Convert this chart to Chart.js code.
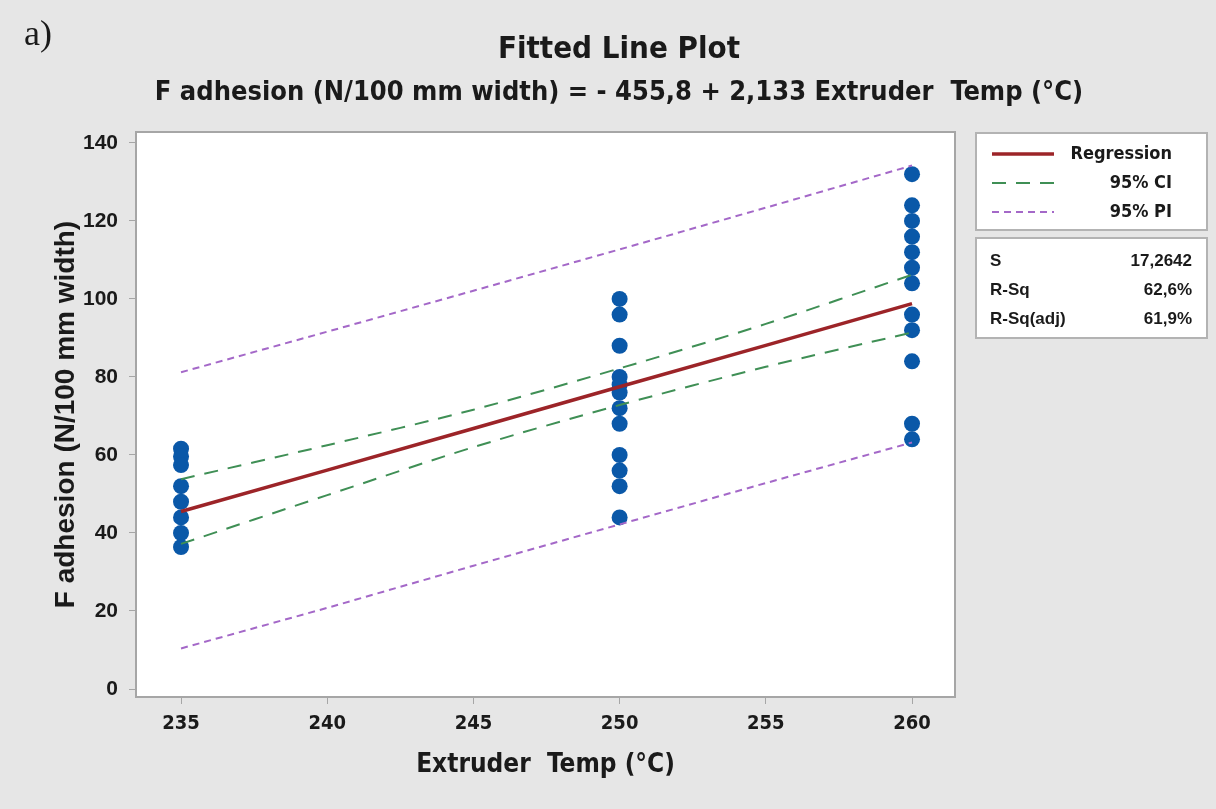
<!DOCTYPE html>
<html>
<head>
<meta charset="utf-8">
<script src="https://cdn.jsdelivr.net/npm/chart.js@4/dist/chart.umd.min.js"></script>
<style>
  body { margin: 0; background: #e6e6e6; }
  canvas { display: block; }
</style>
</head>
<body>
<canvas id="fit-chart" width="1216" height="809"></canvas>
<script>
const temps235 = [235, 235, 235, 235, 235, 235, 235, 235];
const adhesion235 = [61.6, 59.6, 57.4, 52, 48, 44, 40, 36.4];
const temps250 = [250, 250, 250, 250, 250, 250, 250, 250, 250, 250, 250, 250];
const adhesion250 = [100, 96, 88, 80, 78, 76, 72, 68, 60, 56, 52, 44];
const temps260 = [260, 260, 260, 260, 260, 260, 260, 260, 260, 260, 260, 260];
const adhesion260 = [132, 124, 120, 116, 112, 108, 104, 96, 92, 84, 68, 64];

// fitted curves
const fitTemps = [235, 240, 245, 250, 255, 260];
const regression = [45.5, 56.1, 66.8, 77.5, 88.1, 98.8];
const ciUpper = [53.8, 62.5, 71.6, 82.2, 93.6, 106.2];
const ciLower = [37.2, 49.7, 62, 72.8, 82.6, 91.4];
const piUpper = [81.2, 91.6, 102.1, 112.7, 123.4, 134.2];
const piLower = [10.4, 20.8, 31.6, 42.2, 52.8, 63.2];

const xTicks = [235, 240, 245, 250, 255, 260];
const yTicks = [0, 20, 40, 60, 80, 100, 120, 140];

const statLabels = ['S', 'R-Sq', 'R-Sq(adj)'];
const statValues = ['17,2642', '62,6%', '61,9%'];

const RED = '#9c2428';
const GREEN = '#3f8f55';
const PURPLE = '#a468c8';
const BLUE = '#0a58a8';
const NARROW = '"DejaVu Sans Condensed", "Liberation Sans Narrow", sans-serif';
const SANS = '"Liberation Sans", Arial, sans-serif';

function pairs(xs, ys) {
    return xs.map((x, i) => ({ x: x, y: ys[i] }));
}

const obsPoints = pairs(temps235, adhesion235)
    .concat(pairs(temps250, adhesion250))
    .concat(pairs(temps260, adhesion260));

const decorations = {
    id: 'decorations',
    beforeDraw(chart) {
        const { ctx, chartArea: a } = chart;
        ctx.save();
        ctx.fillStyle = '#e6e6e6';
        ctx.fillRect(0, 0, chart.width, chart.height);
        ctx.fillStyle = '#ffffff';
        ctx.fillRect(a.left, a.top, a.right - a.left, a.bottom - a.top);
        ctx.restore();
    },
    afterDraw(chart) {
        const { ctx, chartArea: a } = chart;
        ctx.save();
        ctx.strokeStyle = '#a6a6a6';
        ctx.lineWidth = 2;
        ctx.strokeRect(a.left, a.top, a.right - a.left, a.bottom - a.top);

        ctx.fillStyle = '#1a1a1a';
        ctx.textBaseline = 'middle';
        ctx.font = '36px "Liberation Serif", serif';
        ctx.textAlign = 'left';
        ctx.fillText('a)', 24, 36);

        ctx.textAlign = 'center';
        ctx.font = 'bold 31px ' + NARROW;
        ctx.fillText('Fitted Line Plot', 619, 50);
        ctx.font = 'bold 27px ' + NARROW;
        ctx.fillText('F adhesion (N/100 mm width) = - 455,8 + 2,133 Extruder  Temp (°C)', 619, 93);

        // legend box
        ctx.fillStyle = '#ffffff';
        ctx.strokeStyle = '#b3b3b3';
        ctx.lineWidth = 2;
        ctx.fillRect(976, 133, 231, 97);
        ctx.strokeRect(976, 133, 231, 97);
        ctx.fillRect(976, 238, 231, 100);
        ctx.strokeRect(976, 238, 231, 100);

        const rows = [
            { label: 'Regression', color: RED, width: 3.5, dash: [], y: 154 },
            { label: '95% CI', color: GREEN, width: 2, dash: [14, 10], y: 183 },
            { label: '95% PI', color: PURPLE, width: 2, dash: [7, 5], y: 212 }
        ];
        rows.forEach(r => {
            ctx.beginPath();
            ctx.strokeStyle = r.color;
            ctx.lineWidth = r.width;
            ctx.setLineDash(r.dash);
            ctx.moveTo(992, r.y);
            ctx.lineTo(1054, r.y);
            ctx.stroke();
            ctx.setLineDash([]);
            ctx.fillStyle = '#1a1a1a';
            ctx.textAlign = 'right';
            ctx.font = 'bold 18px ' + NARROW;
            ctx.fillText(r.label, 1172, r.y);
        });

        ctx.font = 'bold 17px ' + SANS;
        statLabels.forEach((lab, i) => {
            const y = 261 + i * 29;
            ctx.textAlign = 'left';
            ctx.fillText(lab, 990, y);
            ctx.textAlign = 'right';
            ctx.fillText(statValues[i], 1192, y);
        });
        ctx.restore();
    }
};

new Chart(document.querySelector('#fit-chart').getContext('2d'), {
    type: 'scatter',
    data: {
        datasets: [
            { label: 'Regression', type: 'line', data: pairs(fitTemps, regression), borderColor: RED, borderWidth: 3.5, pointRadius: 0, fill: false },
            { label: '95% CI upper', type: 'line', data: pairs(fitTemps, ciUpper), borderColor: GREEN, borderWidth: 2, borderDash: [14, 10], pointRadius: 0, fill: false, tension: 0.3 },
            { label: '95% CI lower', type: 'line', data: pairs(fitTemps, ciLower), borderColor: GREEN, borderWidth: 2, borderDash: [14, 10], pointRadius: 0, fill: false, tension: 0.3 },
            { label: '95% PI upper', type: 'line', data: pairs(fitTemps, piUpper), borderColor: PURPLE, borderWidth: 2, borderDash: [7, 5], pointRadius: 0, fill: false },
            { label: '95% PI lower', type: 'line', data: pairs(fitTemps, piLower), borderColor: PURPLE, borderWidth: 2, borderDash: [7, 5], pointRadius: 0, fill: false },
            { label: 'Observed', data: obsPoints, backgroundColor: BLUE, borderWidth: 0, pointRadius: 8 }
        ]
    },
    options: {
        responsive: false,
        animation: false,
        layout: { padding: { top: 132, right: 261, left: 0, bottom: 0 } },
        plugins: {
            legend: { display: false },
            tooltip: { enabled: false }
        },
        scales: {
            x: {
                type: 'linear',
                min: 233.46,
                max: 261.47,
                afterBuildTicks: scale => { scale.ticks = xTicks.map(v => ({ value: v })); },
                afterFit: scale => { scale.height = 112; },
                grid: { drawOnChartArea: false, drawTicks: true, tickLength: 7, color: '#a6a6a6' },
                border: { display: false },
                ticks: { color: '#1a1a1a', font: { family: NARROW, size: 20, weight: 'bold' }, padding: 8 },
                title: { display: true, text: 'Extruder  Temp (°C)', color: '#1a1a1a', font: { family: NARROW, size: 26, weight: 'bold' }, padding: { top: 0, bottom: 28 } }
            },
            y: {
                min: -2.05,
                max: 142.8,
                afterBuildTicks: scale => { scale.ticks = yTicks.map(v => ({ value: v })); },
                afterFit: scale => { scale.width = 136; },
                grid: { drawOnChartArea: false, drawTicks: true, tickLength: 7, color: '#a6a6a6' },
                border: { display: false },
                ticks: { color: '#1a1a1a', font: { family: SANS, size: 21, weight: 'bold' }, padding: 11 },
                title: { display: true, text: 'F adhesion (N/100 mm width)', color: '#1a1a1a', font: { family: SANS, size: 28, weight: 'bold' }, padding: { top: 49, bottom: 0 } }
            }
        }
    },
    plugins: [decorations]
});
</script>
</body>
</html>
